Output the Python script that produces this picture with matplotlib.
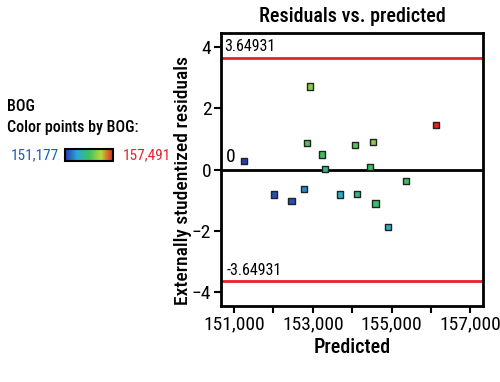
import numpy as np
import matplotlib
matplotlib.use("Agg")
import matplotlib.pyplot as plt
from matplotlib.colors import LinearSegmentedColormap, Normalize
from matplotlib.cm import ScalarMappable

plt.rcParams['font.family'] = ['Roboto Condensed', 'Roboto', 'DejaVu Sans']

# data
predicted = [151260, 152920, 152850, 153240, 153310, 154070, 154520, 154450, 156120,
             155360, 152020, 152460, 152780, 153690, 154130, 154590, 154900]
residuals = [0.28, 2.72, 0.86, 0.50, 0.02, 0.81, 0.90, 0.09, 1.45,
             -0.37, -0.81, -1.03, -0.62, -0.81, -0.80, -1.10, -1.87]
bog = [151300, 155280, 154650, 154330, 153700, 154650, 155280, 154330, 157491,
       154330, 151500, 151500, 152320, 153070, 153700, 154200, 153070]
bog_min, bog_max = 151177, 157491
limit = 3.64931
xticks = [151000, 152000, 153000, 154000, 155000, 156000, 157000]
xtick_labels = ['151,000', '', '153,000', '', '155,000', '', '157,000']
yticks = [-4, -2, 0, 2, 4]

cmap = LinearSegmentedColormap.from_list(
    'bgr', ['#2838a8', '#28a8d8', '#3cc060', '#b8d838', '#e82020'])
norm = Normalize(bog_min, bog_max)

fig = plt.figure(figsize=(5, 3.82), dpi=100)
ax = fig.add_axes([0.442, 0.199, 0.524, 0.715])

ax.axhline(limit, color='#e8202a', lw=2, zorder=1)
ax.axhline(-limit, color='#e8202a', lw=2, zorder=1)
ax.axhline(0, color='black', lw=2, zorder=1)
ax.scatter(predicted, residuals, c=bog, cmap=cmap, norm=norm, marker='s', s=20,
           edgecolors='#222222', linewidths=1, zorder=3)

ax.set_xlim(150670, 157320)
ax.set_ylim(-4.45, 4.47)
ax.set_xticks(xticks)
ax.set_xticklabels(xtick_labels)
ax.set_yticks(yticks)
ax.tick_params(direction='out', length=5, width=1.5, labelsize=14, pad=2)
for s in ax.spines.values():
    s.set_linewidth(2)

ax.text(0.012, limit + 0.12, '3.64931', transform=ax.get_yaxis_transform(),
        fontsize=11.5, va='bottom')
ax.text(0.02, 0.12, '0', transform=ax.get_yaxis_transform(), fontsize=14, va='bottom')
ax.text(0.02, -limit + 0.12, '-3.64931', transform=ax.get_yaxis_transform(),
        fontsize=11.5, va='bottom')

ax.set_title('Residuals vs. predicted', fontsize=14.5, fontweight='medium', pad=8)
ax.set_xlabel('Predicted', fontsize=14.5, fontweight='medium', labelpad=3)
ax.set_ylabel('Externally studentized residuals', fontsize=14, fontweight='medium')
ax.yaxis.set_label_coords(-0.112, 0.46)

# legend block
fig.text(0.014, 0.72, 'BOG', fontsize=11.5, va='center', fontweight='medium')
fig.text(0.014, 0.665, 'Color points by BOG:', fontsize=11.5, va='center',
         fontweight='medium')
fig.text(0.118, 0.594, '{:,}'.format(bog_min), fontsize=11, va='center', ha='right',
         color='#1a5cc0')
fig.text(0.246, 0.594, '{:,}'.format(bog_max), fontsize=11, va='center', ha='left',
         color='#e8202a')
cax = fig.add_axes([0.13, 0.5785, 0.096, 0.031])
cb = fig.colorbar(ScalarMappable(norm=norm, cmap=cmap), cax=cax, orientation='horizontal')
cb.set_ticks([])
cb.outline.set_linewidth(1.5)

fig.savefig('out.png', dpi=100)
